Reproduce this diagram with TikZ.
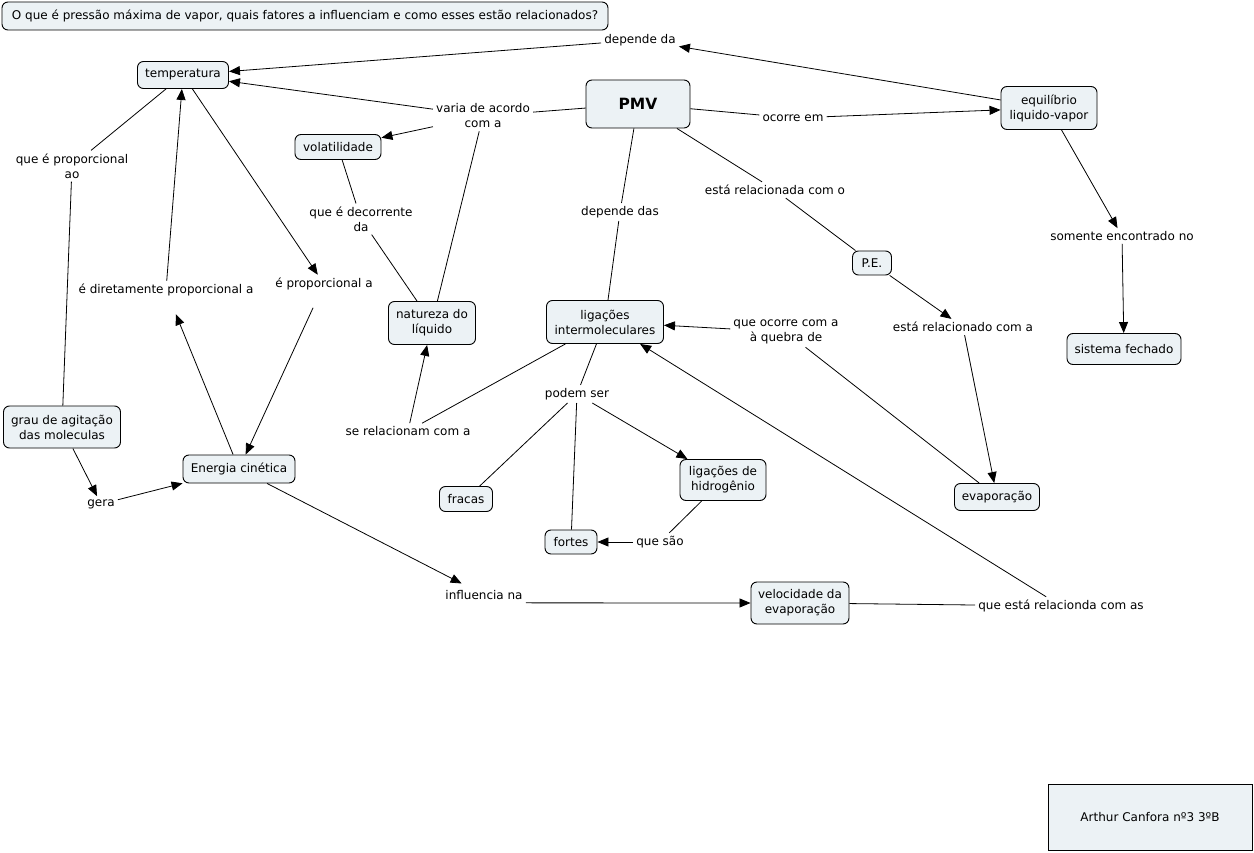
\documentclass[tikz,border=0pt]{standalone}
\usepackage{fontspec}
\setmainfont{DejaVu Sans}
\usetikzlibrary{arrows.meta}
\definecolor{nodefill}{RGB}{236,242,245}
\tikzset{
  concept/.style={draw=black, line width=0.9pt, fill=nodefill, rounded corners=6pt, align=center, inner sep=0pt, font=\fontsize{12}{15}\selectfont},
  lab/.style={align=center, inner sep=3pt, font=\fontsize{12}{15}\selectfont},
  con/.style={line width=0.8pt, black},
  arr/.style={con, -{Triangle[length=11pt,width=9pt]}},
}
\begin{document}
\begin{tikzpicture}[x=1pt,y=-1pt]
\fill[white] (0,0) rectangle (1254,853);
\useasboundingbox (0,0) rectangle (1254,853);

% concepts
\node[concept, minimum width=606, minimum height=28] (title) at (305,16) {O que é pressão máxima de vapor, quais fatores a influenciam e como esses estão relacionados?};
\node[concept, minimum width=91, minimum height=27] (temp) at (183,75) {temperatura};
\node[concept, minimum width=104, minimum height=48, font=\fontsize{15.5}{18}\selectfont\bfseries] (pmv) at (638,104) {PMV};
\node[concept, minimum width=96, minimum height=43] (eq) at (1049,108) {equilíbrio\\liquido-vapor};
\node[concept, minimum width=86, minimum height=25] (vol) at (338,147) {volatilidade};
\node[concept, minimum width=39, minimum height=24] (pe) at (872,263) {P.E.};
\node[concept, minimum width=87, minimum height=43] (nat) at (432,323) {natureza do\\líquido};
\node[concept, minimum width=117, minimum height=43] (lig) at (605,322) {ligações\\intermoleculares};
\node[concept, minimum width=114, minimum height=31] (sis) at (1124,349) {sistema fechado};
\node[concept, minimum width=117, minimum height=42] (grau) at (62,427) {grau de agitação\\das moleculas};
\node[concept, minimum width=112, minimum height=28] (ec) at (239,469) {Energia cinética};
\node[concept, minimum width=53, minimum height=25] (fra) at (466,499) {fracas};
\node[concept, minimum width=86, minimum height=41] (lh) at (723,480) {ligações de\\hidrogênio};
\node[concept, minimum width=85, minimum height=27] (evap) at (997,497) {evaporação};
\node[concept, minimum width=52, minimum height=24] (fort) at (571,542) {fortes};
\node[concept, minimum width=98, minimum height=42] (vel) at (800,603) {velocidade da\\evaporação};
\node[concept, rounded corners=0pt, minimum width=204, minimum height=66] (auth) at (1150,817) {Arthur Canfora nº3 3ºB};

% linking phrases
\node[lab] (ldd) at (640,40) {depende da};
\node[lab] (lva) at (483,116) {varia de acordo\\com a};
\node[lab] (loe) at (793,118) {ocorre em};
\node[lab] (lqp) at (72,166) {que é proporcional\\ao};
\node[lab] (lqd) at (361,219) {que é decorrente\\da};
\node[lab] (ldas) at (620,212) {depende das};
\node[lab] (lrc) at (775,190) {está relacionada com o};
\node[lab] (lse) at (1122,236) {somente encontrado no};
\node[lab] (ldp) at (166,290) {é diretamente proporcional a};
\node[lab] (lpa) at (324,284) {é proporcional a};
\node[lab] (lqo) at (786,332) {que ocorre com a\\à quebra de};
\node[lab] (lrca) at (963,327) {está relacionado com a};
\node[lab] (lps) at (577,394) {podem ser};
\node[lab] (lsr) at (408,431) {se relacionam com a};
\node[lab] (lgera) at (101,504) {gera};
\node[lab] (lqs) at (660,542) {que são};
\node[lab] (linf) at (484,595) {influencia na};
\node[lab] (lqe) at (1061,606) {que está relacionda com as};

% connectors
\draw[arr] (eq) -- (ldd);
\draw[arr] (ldd) -- (temp);
\draw[con] (pmv) -- (lva);
\draw[arr] (lva) -- (temp);
\draw[arr] (lva) -- (vol);
\draw[con] (lva) -- (nat);
\draw[con] (pmv) -- (loe);
\draw[arr] (loe) -- (eq);
\draw[con] (temp) -- (lqp);
\draw[con] (lqp) -- (grau);
\draw[arr] (temp) -- (lpa);
\draw[arr, shorten <=16pt] (lpa) -- (ec);
\draw[arr, shorten >=16pt] (ec) -- (ldp);
\draw[arr] (ldp) -- (temp);
\draw[con] (vol) -- (lqd);
\draw[con] (lqd) -- (nat);
\draw[con] (pmv) -- (ldas);
\draw[con] (ldas) -- (lig);
\draw[con] (pmv) -- (lrc);
\draw[con] (lrc) -- (pe);
\draw[arr] (pe) -- (lrca);
\draw[arr] (lrca) -- (evap);
\draw[arr] (eq) -- (lse);
\draw[arr] (lse) -- (sis);
\draw[con] (evap) -- (lqo);
\draw[arr] (lqo) -- (lig);
\draw[con] (lig) -- (lps);
\draw[con] (lps) -- (fra);
\draw[con] (lps) -- (fort);
\draw[arr] (lps) -- (lh);
\draw[con] (lh) -- (lqs);
\draw[arr] (lqs) -- (fort);
\draw[con] (lig) -- (lsr);
\draw[arr] (lsr) -- (nat);
\draw[arr] (grau) -- (lgera);
\draw[arr] (lgera) -- (ec);
\draw[arr, shorten >=8pt] (ec) -- (linf);
\draw[arr] (linf.south east) -- (vel.west);
\draw[con] (vel) -- (lqe);
\draw[arr] (lqe) -- (lig);
\end{tikzpicture}
\end{document}
